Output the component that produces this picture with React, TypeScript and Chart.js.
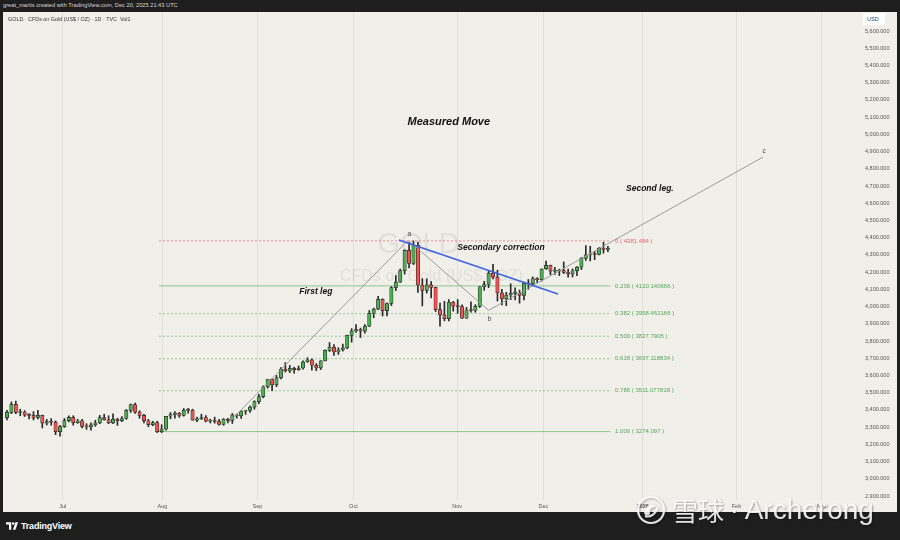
import React, { useEffect, useRef } from 'react';
import { Chart, registerables } from 'chart.js';

Chart.register(...registerables);

// ---- Daily candles, 12 Jun 2025 (index 0) to 19 Dec 2025 (index 136) ----
const opens = [
  3355, 3386, 3432, 3385, 3388, 3370, 3368, 3356, 3368, 3323, 3332, 3328, 3274,
  3303, 3338, 3357, 3326, 3337, 3304, 3301, 3313, 3325, 3355, 3343, 3324, 3347, 3338, 3350, 3397, 3431, 3387, 3368, 3337, 3314, 3326, 3274,
  3289, 3363, 3373, 3381, 3368, 3397, 3398, 3341, 3348, 3356, 3335, 3336, 3332, 3315, 3347, 3339, 3371, 3365, 3393, 3397, 3416,
  3448, 3477, 3533, 3578, 3545, 3586, 3636, 3627, 3641, 3634, 3643, 3679, 3690, 3659, 3644, 3685, 3746, 3764, 3736, 3749, 3760, 3833,
  3858, 3866, 3857, 3886, 3961, 3985, 4042, 3976, 4018, 4110, 4142, 4209, 4326, 4251, 4356, 4125, 4094, 4126, 4111, 3982, 3952, 3930, 4025,
  4002, 4000, 3932, 3980, 3977, 4001, 4115, 4128, 4194, 4171, 4080, 4045, 4067, 4077, 4077, 4065, 4135, 4132, 4163, 4156,
  4220, 4239, 4206, 4206, 4209, 4198, 4190, 4208, 4229, 4280, 4300, 4305, 4303, 4338, 4332,
];
const highs = [
  3398, 3446, 3451, 3404, 3396, 3378, 3390, 3398, 3370, 3345, 3350, 3336, 3310,
  3350, 3365, 3366, 3345, 3345, 3320, 3325, 3340, 3368, 3375, 3366, 3377, 3352, 3361, 3402, 3434, 3439, 3395, 3374, 3345, 3334, 3334, 3314,
  3363, 3385, 3390, 3385, 3408, 3409, 3404, 3358, 3375, 3367, 3346, 3358, 3345, 3350, 3351, 3379, 3376, 3394, 3397, 3423, 3453,
  3490, 3540, 3578, 3580, 3600, 3646, 3674, 3658, 3648, 3655, 3685, 3703, 3697, 3669, 3686, 3749, 3791, 3779, 3761, 3782, 3834, 3872,
  3895, 3875, 3896, 3977, 3991, 4059, 4045, 4022, 4116, 4180, 4218, 4330, 4372, 4381, 4375, 4162, 4161, 4145, 4113, 4020, 4030, 4040, 4030,
  4041, 4010, 3995, 4027, 4011, 4117, 4147, 4210, 4245, 4211, 4100, 4083, 4132, 4109, 4096, 4142, 4157, 4172, 4168, 4219,
  4264, 4241, 4228, 4217, 4259, 4218, 4219, 4232, 4285, 4354, 4350, 4321, 4342, 4374, 4350,
];
const lows = [
  3342, 3378, 3378, 3366, 3362, 3348, 3342, 3347, 3295, 3312, 3312, 3256, 3247,
  3298, 3330, 3311, 3322, 3296, 3287, 3282, 3305, 3320, 3340, 3320, 3320, 3310, 3332, 3345, 3385, 3380, 3351, 3324, 3302, 3308, 3268, 3268,
  3282, 3348, 3352, 3357, 3364, 3381, 3340, 3331, 3344, 3330, 3324, 3323, 3311, 3311, 3324, 3321, 3352, 3351, 3374, 3385, 3404,
  3436, 3470, 3526, 3511, 3535, 3580, 3620, 3616, 3613, 3630, 3636, 3676, 3631, 3628, 3634, 3684, 3739, 3717, 3722, 3741, 3755, 3793,
  3850, 3820, 3845, 3883, 3935, 3982, 3945, 3945, 4006, 4092, 4140, 4188, 4225, 4244, 4082, 4004, 4078, 4050, 3971, 3886, 3917, 3917, 3973,
  3961, 3929, 3931, 3967, 3967, 3995, 4094, 4110, 4160, 4032, 4010, 4005, 4040, 4038, 4020, 4039, 4100, 4124, 4140, 4148,
  4215, 4185, 4186, 4180, 4192, 4170, 4172, 4180, 4215, 4268, 4265, 4272, 4300, 4310, 4318,
];
const closes = [
  3386, 3432, 3385, 3388, 3370, 3368, 3354, 3368, 3323, 3332, 3328, 3274, 3303,
  3338, 3357, 3326, 3337, 3304, 3301, 3313, 3325, 3355, 3343, 3324, 3347, 3338, 3350, 3397, 3431, 3387, 3368, 3337, 3314, 3326, 3274, 3289,
  3363, 3373, 3381, 3368, 3397, 3398, 3341, 3348, 3356, 3335, 3336, 3332, 3315, 3347, 3339, 3371, 3365, 3393, 3397, 3416, 3448,
  3477, 3533, 3578, 3545, 3586, 3636, 3627, 3641, 3634, 3643, 3679, 3690, 3659, 3644, 3685, 3746, 3764, 3736, 3749, 3760, 3833, 3858,
  3866, 3857, 3886, 3961, 3985, 4042, 3976, 4018, 4110, 4142, 4209, 4326, 4251, 4356, 4125, 4094, 4126, 4111, 3982, 3952, 3930, 4025, 4002,
  4000, 3932, 3980, 3977, 4001, 4115, 4128, 4194, 4171, 4080, 4045, 4067, 4077, 4077, 4065, 4135, 4132, 4163, 4156, 4218,
  4239, 4206, 4206, 4209, 4198, 4190, 4208, 4229, 4280, 4300, 4305, 4303, 4338, 4332, 4338,
];

// ---- Axis ticks ----
const monthTickPos = [12.6, 35.2, 56.7, 78.4, 101.9, 121.4, 143.9, 165.1, 184.4];
const monthTickLabels = ['Jul', 'Aug', 'Sep', 'Oct', 'Nov', 'Dec', '2026', 'Feb', 'Mar'];
const priceTicks = [
  2900, 3000, 3100, 3200, 3300, 3400, 3500, 3600, 3700, 3800, 3900, 4000, 4100, 4200,
  4300, 4400, 4500, 4600, 4700, 4800, 4900, 5000, 5100, 5200, 5300, 5400, 5500, 5600,
];

// ---- Fibonacci retracement ----
const fibRatios = ['0', '0.236', '0.382', '0.500', '0.618', '0.786', '1.000'];
const fibPrices = [4381.484, 4120.140666, 3958.462166, 3827.7905, 3697.118834, 3511.077818, 3274.097];
const fibSpan = [34.4, 136.5];

// ---- Drawings ----
const moveX = [50, 90.8, 109, 171.1];
const moveY = [3322, 4385, 3978, 4868];
const moveLabels = ['', 'a', 'b', 'c'];
const trendX = [88.7, 124.7];
const trendY = [4386, 4073];
const noteTexts = ['Measured Move', 'First leg', 'Secondary correction', 'Second leg.'];
const noteX = [100, 69.9, 111.8, 145.5];
const noteY = [5072, 4084, 4340, 4682];

const UP = '#4caf50';
const DOWN = '#ef5350';
const FIB_GREEN = 'rgba(76,175,80,0.6)';
const FIB_RED = 'rgba(242,54,69,0.55)';
const SANS = '"Liberation Sans", Arial, sans-serif';

const overlayPlugin = {
  id: 'overlay',
  beforeDatasetsDraw(chart: any) {
    const { ctx, chartArea } = chart;
    const cx = (chartArea.left + chartArea.right) / 2;
    const cy = (chartArea.top + chartArea.bottom) / 2;
    ctx.save();
    ctx.textAlign = 'center';
    ctx.textBaseline = 'middle';
    ctx.fillStyle = 'rgba(90,90,90,0.10)';
    ctx.font = `29px ${SANS}`;
    ctx.fillText('GOLD', cx - 12, cy - 11);
    ctx.font = `16px ${SANS}`;
    ctx.fillText('CFDs on Gold (US$ / OZ)', cx + 1, cy + 21);
    ctx.restore();
  },
  afterDatasetsDraw(chart: any) {
    const { ctx } = chart;
    const xs = chart.scales.x;
    const ys = chart.scales.y;
    ctx.save();
    ctx.textAlign = 'left';
    ctx.textBaseline = 'middle';
    ctx.font = `6px ${SANS}`;
    fibPrices.forEach((p, k) => {
      ctx.fillStyle = k === 0 ? '#f0606c' : '#57a85a';
      ctx.fillText(`${fibRatios[k]} ( ${p} )`, xs.getPixelForValue(fibSpan[1]) + 5, ys.getPixelForValue(p));
    });
    ctx.textAlign = 'center';
    noteTexts.forEach((t, k) => {
      ctx.fillStyle = '#111';
      ctx.font = k === 0 ? `italic bold 11px ${SANS}` : `italic bold 8.5px ${SANS}`;
      ctx.fillText(t, xs.getPixelForValue(noteX[k]), ys.getPixelForValue(noteY[k]));
    });
    ctx.font = `6.5px ${SANS}`;
    ctx.fillStyle = '#444';
    moveLabels.forEach((t, k) => {
      if (!t) return;
      const px = xs.getPixelForValue(moveX[k]);
      const py = ys.getPixelForValue(moveY[k]);
      ctx.fillText(t, px + 1, k === 2 ? py + 9 : py - 6);
    });
    ctx.restore();
  },
};

export default function App() {
  const ref = useRef<HTMLCanvasElement>(null);

  useEffect(() => {
    const idx = closes.map((_, i) => i);
    const wickData = idx.map((i) => ({ x: i, y: [lows[i], highs[i]] }));
    const bodyData = idx.map((i) => ({ x: i, y: [opens[i], closes[i]] }));
    const bodyColors = idx.map((i) => (closes[i] >= opens[i] ? UP : DOWN));

    const fibDatasets = fibPrices.map((p, k) => ({
      type: 'line' as const,
      data: [{ x: fibSpan[0], y: p }, { x: fibSpan[1], y: p }],
      borderColor: k === 0 ? FIB_RED : FIB_GREEN,
      borderWidth: 1,
      borderDash: k === 1 || k === 6 ? [] : [2, 2],
      pointRadius: 0,
      order: 5,
    }));

    const chart = new Chart(ref.current as HTMLCanvasElement, {
      type: 'bar',
      data: {
        datasets: [
          ...fibDatasets,
          {
            type: 'bar',
            data: wickData as any,
            backgroundColor: '#2a2a2a',
            barThickness: 1,
            grouped: false,
            order: 3,
          } as any,
          {
            type: 'bar',
            data: bodyData as any,
            backgroundColor: bodyColors,
            borderColor: '#2a2a2a',
            borderWidth: 0.7,
            borderSkipped: false,
            barThickness: 3.4,
            minBarLength: 1,
            grouped: false,
            order: 2,
          } as any,
          {
            type: 'line',
            data: moveX.map((x, k) => ({ x, y: moveY[k] })),
            borderColor: '#9a9a9a',
            borderWidth: 1,
            pointRadius: 0,
            order: 1,
          } as any,
          {
            type: 'line',
            data: trendX.map((x, k) => ({ x, y: trendY[k] })),
            borderColor: '#3d63e6',
            borderWidth: 1.6,
            pointRadius: 0,
            order: 0,
          } as any,
        ],
      },
      options: {
        responsive: false,
        devicePixelRatio: 1,
        animation: false,
        events: [],
        layout: { padding: 0 },
        plugins: { legend: { display: false }, tooltip: { enabled: false } },
        scales: {
          x: {
            type: 'linear',
            position: 'bottom',
            min: -0.9,
            max: 192.6,
            offset: false,
            afterBuildTicks: (s: any) => {
              s.ticks = monthTickPos.map((v) => ({ value: v }));
            },
            afterFit: (s: any) => {
              s.height = 12;
              s.paddingLeft = 0;
              s.paddingRight = 0;
            },
            ticks: {
              autoSkip: false,
              maxRotation: 0,
              padding: 3,
              color: '#555',
              font: (c: any) => ({
                size: 5.5,
                family: SANS,
                weight: monthTickLabels[c.index] === '2026' ? 'bold' : 'normal',
              }),
              callback: (_v: any, i: number) => monthTickLabels[i],
            },
            grid: { color: '#dfded7', lineWidth: 1, drawTicks: false, offset: false },
            border: { display: false },
          },
          y: {
            type: 'linear',
            position: 'right',
            min: 2876.8,
            max: 5710.3,
            afterBuildTicks: (s: any) => {
              s.ticks = priceTicks.map((v) => ({ value: v }));
            },
            afterFit: (s: any) => {
              s.width = 39;
              s.paddingTop = 0;
              s.paddingBottom = 0;
            },
            ticks: {
              padding: 7,
              color: '#555',
              font: { size: 5.5, family: SANS },
              callback: (v: any) =>
                Number(v).toLocaleString('en-US', { minimumFractionDigits: 3, maximumFractionDigits: 3 }),
            },
            grid: { display: false, drawTicks: false },
            border: { display: false },
          },
        },
      } as any,
      plugins: [overlayPlugin],
    } as any);
    return () => chart.destroy();
  }, []);

  return (
    <div
      style={{
        position: 'fixed',
        left: 0,
        top: 0,
        width: 900,
        height: 540,
        background: '#1e1e1e',
        overflow: 'hidden',
        fontFamily: SANS,
      }}
    >
      <div style={{ position: 'absolute', left: 3, top: 2, fontSize: 5.7, color: '#d6d6d6', whiteSpace: 'nowrap' }}>
        great_martis created with TradingView.com, Dec 20, 2025 21:43 UTC
      </div>
      <div style={{ position: 'absolute', left: 3, top: 12, width: 894, height: 500, background: '#f0efe9' }}>
        <canvas ref={ref} width={894} height={500} style={{ display: 'block', width: 894, height: 500 }} />
        <div style={{ position: 'absolute', left: 5, top: 4, fontSize: 5.4, color: '#333', whiteSpace: 'nowrap' }}>
          GOLD · CFDs on Gold (US$ / OZ) · 1D · TVC&nbsp;&nbsp;Vol1
        </div>
        <div
          style={{
            position: 'absolute',
            left: 860,
            top: 1,
            width: 22,
            height: 12,
            background: '#ffffff',
            fontSize: 5.5,
            color: '#444',
            lineHeight: '12px',
            paddingLeft: 4,
            boxSizing: 'border-box',
          }}
        >
          USD
        </div>
      </div>
      <div style={{ position: 'absolute', left: 6, top: 521, display: 'flex', alignItems: 'center', gap: 3 }}>
        <svg width="12" height="8" viewBox="0 0 16 10">
          <path d="M0 0h7v10H4V3H0z" fill="#fff" />
          <circle cx="9.5" cy="1.6" r="1.6" fill="#fff" />
          <path d="M12.5 0 H16 L12.6 10 H9.3z" fill="#fff" />
        </svg>
        <span style={{ color: '#fff', fontSize: 9, fontWeight: 'bold', letterSpacing: -0.2 }}>TradingView</span>
      </div>
      <div
        style={{
          position: 'absolute',
          left: 636,
          top: 495,
          display: 'flex',
          alignItems: 'center',
          gap: 6,
          color: 'rgba(255,255,255,0.88)',
          textShadow: '1px 1px 2px rgba(0,0,0,0.35)',
          whiteSpace: 'nowrap',
        }}
      >
        <svg width="30" height="30" viewBox="0 0 30 30" style={{ filter: 'drop-shadow(1px 1px 1px rgba(0,0,0,0.35))' }}>
          <circle cx="15" cy="15" r="13" fill="none" stroke="rgba(255,255,255,0.88)" strokeWidth="2.2" />
          <path d="M8 18 C10 10, 17 8, 21 12 C17 11, 13 14, 14 19 C12 21, 9 21, 8 18z" fill="rgba(255,255,255,0.88)" />
          <path d="M22 12 C20 19, 14 23, 9 21" fill="none" stroke="rgba(255,255,255,0.88)" strokeWidth="2" />
        </svg>
        <span style={{ fontFamily: '"Noto Sans CJK SC", sans-serif', fontSize: 26, lineHeight: '30px' }}>雪球</span>
        <span style={{ fontFamily: '"Liberation Sans", Arial, sans-serif', fontSize: 26, lineHeight: '30px' }}>·</span>
        <span style={{ fontFamily: '"Liberation Sans", Arial, sans-serif', fontSize: 28, lineHeight: '30px' }}>Archerong</span>
      </div>
    </div>
  );
}
